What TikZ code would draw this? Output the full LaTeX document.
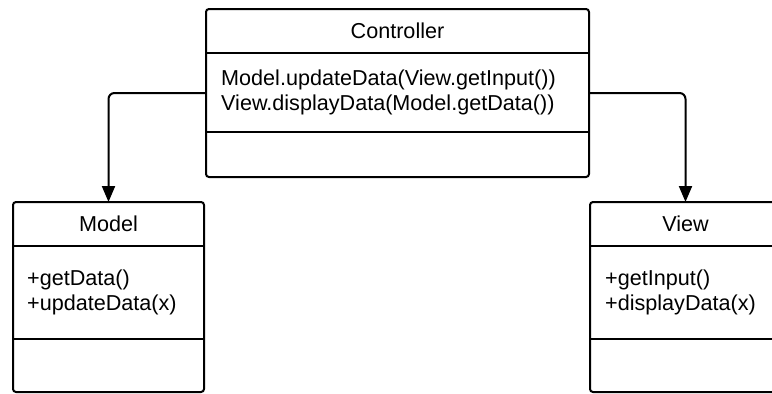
\documentclass[tikz,border=0pt]{standalone}
\usepackage{fontspec}
\setmainfont{Liberation Sans}
\usetikzlibrary{arrows.meta}
\begin{document}
\begin{tikzpicture}[x=1pt,y=-1pt,
  classbox/.style={draw, line width=2pt, rounded corners=3pt, inner sep=0pt, outer sep=0pt, anchor=north west},
  divider/.style={line width=2pt},
  conn/.style={line width=2pt, rounded corners=6pt, -{Triangle[length=16pt,width=13pt]}},
  txt/.style={font=\fontsize{21.6}{25.5}\selectfont, inner sep=0pt},
  meth/.style={txt, align=left, anchor=west}]
\useasboundingbox (0,0) rectangle (772,394);
\clip (0,0) rectangle (772,394);
% boxes
\node[classbox, minimum width=383pt, minimum height=168pt] (ctrl) at (206,9) {};
\node[classbox, minimum width=191pt, minimum height=190pt] (model) at (13,202) {};
\node[classbox, minimum width=191pt, minimum height=190pt] (view) at (590,202) {};
% dividers
\draw[divider] ([yshift=-44pt]ctrl.north west) -- ([yshift=-44pt]ctrl.north east);
\draw[divider] ([yshift=-123pt]ctrl.north west) -- ([yshift=-123pt]ctrl.north east);
\draw[divider] ([yshift=-44pt]model.north west) -- ([yshift=-44pt]model.north east);
\draw[divider] ([yshift=-137pt]model.north west) -- ([yshift=-137pt]model.north east);
\draw[divider] ([yshift=-44pt]view.north west) -- ([yshift=-44pt]view.north east);
\draw[divider] ([yshift=-137pt]view.north west) -- ([yshift=-137pt]view.north east);
% texts
\node[txt] (ctrlname) at ([yshift=-22pt]ctrl.north) {Controller};
\node[meth] (ctrlops) at (221,92.5) {Model.updateData(View.getInput())\\View.displayData(Model.getData())};
\node[txt] (modelname) at ([yshift=-22pt]model.north) {Model};
\node[meth] (modelops) at (27,292.5) {+getData()\\+updateData(x)};
\node[txt] (viewname) at ([yshift=-22pt]view.north) {View};
\node[meth] (viewops) at (605,292.5) {+getInput()\\+displayData(x)};
% connectors
\draw[conn] (ctrl.west) -| (model.north);
\draw[conn] (ctrl.east) -| (view.north);
\end{tikzpicture}
\end{document}
